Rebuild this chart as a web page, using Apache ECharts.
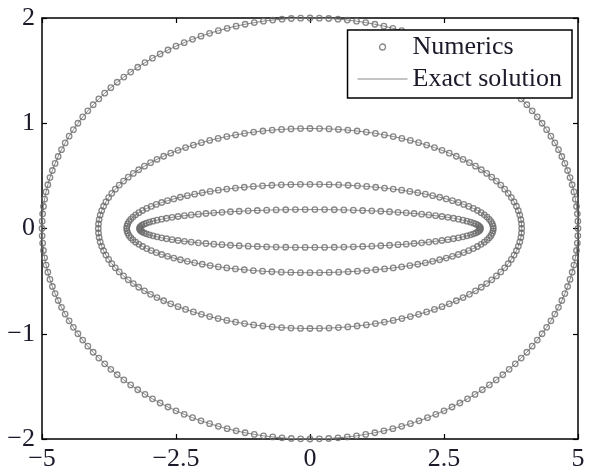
<!DOCTYPE html>
<html>
<head>
<meta charset="utf-8">
<script src="https://cdn.jsdelivr.net/npm/echarts@6/dist/echarts.min.js"></script>
<style>
  html, body { margin: 0; padding: 0; background: #fff; }
  #main { width: 592px; height: 472px; }
</style>
</head>
<body>
<div id="main"></div>
<script>
// semi-axes of the ellipses and marker count per curve
var semiX = [5.0, 3.95, 3.42, 3.18];
var semiY = [2.0, 0.95, 0.42, 0.18];
var pointCounts = [180, 140, 120, 110];
var xTicks = [-5, -2.5, 0, 2.5, 5];
var yTicks = [-2, -1, 0, 1, 2];

var fontFamily = '"Liberation Serif", "Times New Roman", serif';
var textColor = '#1a1a2a';
var markerColor = '#6a6a6a';

function minusSign(v) {
    return String(v).replace('-', '\u2212');
}

// points of one ellipse, x = a cos t, y = b sin t
function ellipsePoints(a, b, n) {
    var pts = [];
    for (var i = 0; i < n; i++) {
        var t = 2 * Math.PI * i / n;
        pts.push([a * Math.cos(t), b * Math.sin(t)]);
    }
    return pts;
}

var series = [];
for (var k = 0; k < semiX.length; k++) {
    var pts = ellipsePoints(semiX[k], semiY[k], pointCounts[k]);
    series.push({
        name: 'Exact solution',
        type: 'line',
        symbol: 'none',
        showSymbol: false,
        z: 2,
        lineStyle: { color: '#8a8a8a', width: 1 },
        itemStyle: { color: '#8a8a8a' },
        data: pts.concat([pts[0]]),
        silent: true
    });
    series.push({
        name: 'Numerics',
        type: 'scatter',
        symbol: 'circle',
        symbolSize: 5.5,
        z: 3,
        itemStyle: { color: 'rgba(255,255,255,0)', borderColor: markerColor, borderWidth: 1.3 },
        data: pts,
        silent: true
    });
}

var axisLine = { show: true, onZero: false, lineStyle: { color: '#000', width: 1.5 } };
var axisTick = { show: true, inside: true, length: 5, lineStyle: { color: '#000', width: 1.2 } };
var labelStyle = { color: textColor, fontFamily: fontFamily, fontSize: 26, formatter: minusSign };

var chart = echarts.init(document.getElementById('main'));
chart.setOption({
    backgroundColor: '#fff',
    animation: false,
    grid: { left: 42, right: 14, top: 18, bottom: 30, containLabel: false },
    legend: {
        orient: 'vertical',
        right: 20,
        top: 30,
        z: 10,
        backgroundColor: '#fff',
        borderColor: '#000',
        borderWidth: 1.5,
        padding: [4, 10, 6, 10],
        itemGap: 6,
        itemWidth: 50,
        itemHeight: 6,
        symbolKeepAspect: true,
        textStyle: { color: textColor, fontFamily: fontFamily, fontSize: 26 },
        data: [
            { name: 'Numerics', icon: 'circle', itemStyle: { color: '#fff', borderColor: markerColor, borderWidth: 1.3 } },
            { name: 'Exact solution', icon: 'path://M0,0H50V1H0Z', itemStyle: { color: '#8a8a8a', borderWidth: 0 } }
        ]
    },
    xAxis: [{
        type: 'value',
        min: xTicks[0],
        max: xTicks[xTicks.length - 1],
        interval: 2.5,
        axisLine: axisLine,
        axisTick: axisTick,
        splitLine: { show: false },
        axisLabel: Object.assign({ margin: 7 }, labelStyle)
    }, {
        type: 'value',
        position: 'top',
        min: xTicks[0],
        max: xTicks[xTicks.length - 1],
        interval: 2.5,
        axisLine: axisLine,
        axisTick: axisTick,
        splitLine: { show: false },
        axisLabel: { show: false }
    }],
    yAxis: [{
        type: 'value',
        min: yTicks[0],
        max: yTicks[yTicks.length - 1],
        interval: 1,
        axisLine: axisLine,
        axisTick: axisTick,
        splitLine: { show: false },
        axisLabel: Object.assign({ margin: 7 }, labelStyle)
    }, {
        type: 'value',
        position: 'right',
        min: yTicks[0],
        max: yTicks[yTicks.length - 1],
        interval: 1,
        axisLine: axisLine,
        axisTick: axisTick,
        splitLine: { show: false },
        axisLabel: { show: false }
    }],
    series: series
});
</script>
</body>
</html>
